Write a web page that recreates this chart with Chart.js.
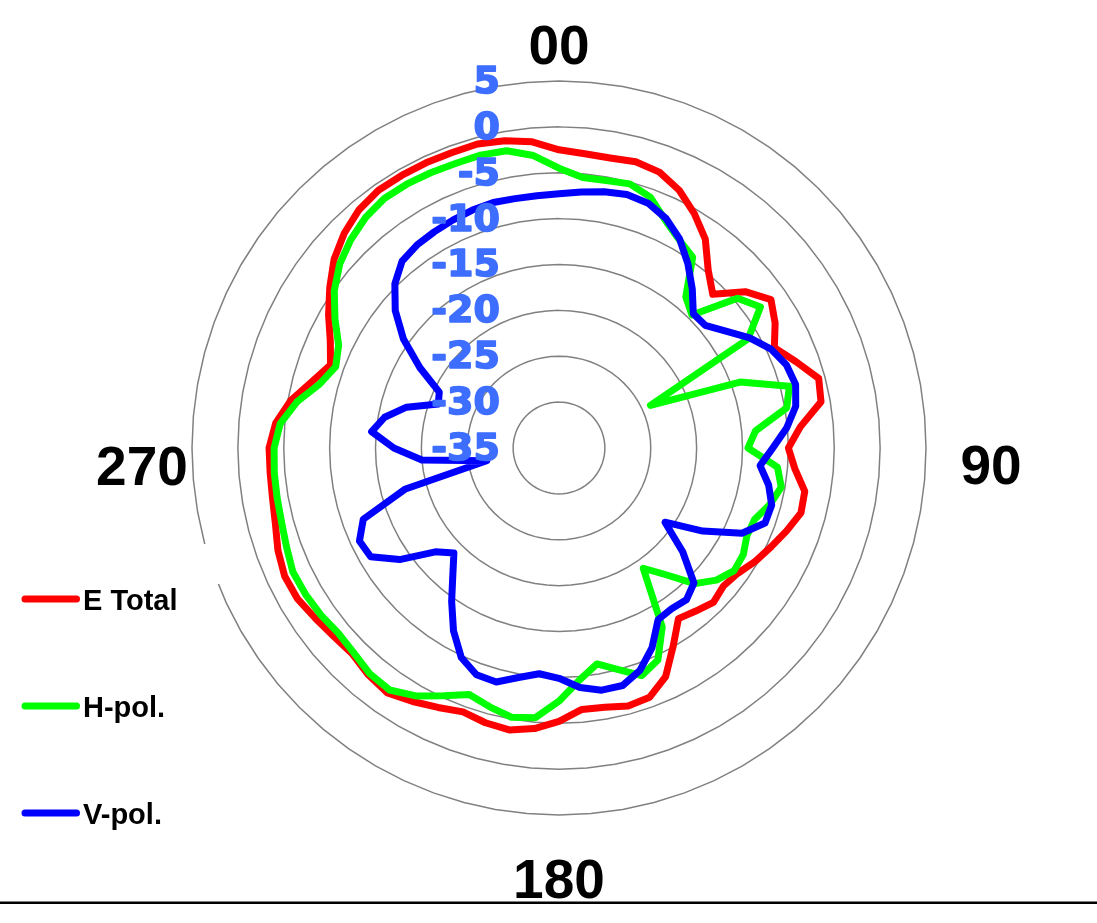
<!DOCTYPE html>
<html>
<head>
<meta charset="utf-8">
<title>Antenna pattern</title>
<script src="https://cdn.jsdelivr.net/npm/chart.js@4.4.1/dist/chart.umd.min.js"></script>
<style>
  html, body { margin: 0; padding: 0; background: #fff; }
  #wrap { position: relative; width: 1097px; height: 923px; }
</style>
</head>
<body>
<div id="wrap"><canvas id="pattern"></canvas></div>
<script>
// azimuth in degrees, clockwise from the top
const angles = [
  "0", "5", "10", "15", "20", "25", "30", "35", "40", "45", "50", "55",
  "60", "65", "70", "75", "80", "85", "90", "95", "100", "105", "110", "115",
  "120", "125", "130", "135", "140", "145", "150", "155", "160", "165", "170", "175",
  "180", "185", "190", "195", "200", "205", "210", "215", "220", "225", "230", "235",
  "240", "245", "250", "255", "260", "265", "270", "275", "280", "285", "290", "295",
  "300", "305", "310", "315", "320", "325", "330", "335", "340", "345", "350", "355"
];

// level in dB
const eTotal = [
  -2.5, -2.8, -2.9, -2.7, -3.0, -4.0, -5.5, -7.2, -9.7, -11.3, -8.5, -6.8,
  -7.8, -9.1, -7.5, -5.7, -6.0, -8.6, -10.0, -9.2, -7.8, -7.7, -8.6, -9.5,
  -10.3, -11.2, -11.6, -11.2, -11.8, -12.3, -10.1, -7.5, -6.1, -5.9, -6.3, -6.4,
  -5.2, -4.3, -3.8, -4.0, -4.4, -3.8, -3.1, -2.4, -2.7, -3.2, -3.0, -2.6,
  -2.1, -2.0, -2.4, -3.0, -3.3, -3.4, -3.4, -4.0, -5.3, -7.1, -8.5, -7.5,
  -6.0, -4.5, -3.0, -1.9, -1.1, -0.7, -0.7, -0.7, -0.75, -0.7, -1.0, -1.5
];

const hPol = [
  -4.5, -5.4, -5.4, -5.2, -5.9, -7.6, -8.8, -9.6, -13.5, -14.5, -9.6, -8.2,
  -11.2, -24.0, -14.0, -9.0, -9.8, -13.5, -14.4, -11.1, -10.4, -11.2, -12.3, -12.4,
  -11.8, -11.7, -12.6, -14.1, -17.0, -19.0, -12.5, -9.5, -8.6, -10.0, -11.1, -9.6,
  -7.4, -5.5, -5.2, -5.8, -6.4, -5.2, -3.8, -2.8, -2.9, -3.4, -3.6, -3.3,
  -3.1, -3.0, -3.4, -3.7, -3.8, -3.85, -3.95, -4.5, -6.0, -8.0, -9.1, -8.5,
  -6.8, -5.1, -3.8, -2.9, -2.2, -1.8, -1.8, -1.9, -2.0, -1.95, -2.1, -3.0
];

const vPol = [
  -7.3, -7.0, -6.65, -6.4, -6.6, -7.4, -8.7, -10.5, -12.4, -14.3, -14.2, -12.8,
  -11.0, -9.5, -8.6, -8.3, -8.8, -10.1, -11.7, -13.0, -11.8, -11.0, -11.1, -13.0,
  -16.9, -20.9, -17.4, -14.2, -13.4, -13.6, -13.4, -11.0, -9.2, -8.2, -8.2, -8.8,
  -9.9, -10.3, -9.6, -8.6, -8.7, -9.8, -12.0, -14.6, -17.0, -18.8, -17.4, -13.8,
  -11.3, -11.0, -12.3, -17.6, -27.0, -20.0, -17.0, -14.5, -15.7, -17.8, -21.0, -20.6,
  -17.5, -14.3, -11.7, -9.7, -8.4, -8.0, -7.8, -7.6, -7.4, -7.3, -7.4, -7.4
];

const compassAngles = ["0", "90", "180", "270"];
const compassLabels = ["00", "90", "180", "270"];

const seriesNames = ["E Total", "H-pol.", "V-pol."];
const seriesColors = ["#ff0000", "#00ff00", "#0000ff"];

// gap beyond the outer ring and downward shift for each compass label
const compassGap = [37, 65, 63, 50];
const compassDrop = [0, 16, 0, 17];

const decorations = {
  id: "decorations",
  beforeDatasetsDraw(chart) {
    // the original has a blank patch over the outer ring next to the legend
    const ctx = chart.ctx;
    ctx.save();
    ctx.fillStyle = "#fff";
    ctx.fillRect(186, 544, 36, 40);
    ctx.restore();
  },
  afterDatasetsDraw(chart) {
    const ctx = chart.ctx;
    const scale = chart.scales.r;
    ctx.save();

    // ring values, right aligned left of the centre (heavy weight)
    ctx.font = "bold 38px 'DejaVu Sans'";
    ctx.fillStyle = "#3d6eff";
    ctx.strokeStyle = "#3d6eff";
    ctx.lineWidth = 1.6;
    ctx.lineJoin = "round";
    ctx.textAlign = "right";
    ctx.textBaseline = "middle";
    scale.ticks.forEach((t) => {
      const d = scale.getDistanceFromCenterForValue(t.value);
      const y = scale.yCenter - d + 2;
      ctx.fillText(String(t.value), scale.xCenter - 59, y);
      ctx.strokeText(String(t.value), scale.xCenter - 59, y);
    });

    // compass labels
    ctx.font = "bold 55px 'Liberation Sans', Arial, sans-serif";
    ctx.fillStyle = "#000";
    ctx.textAlign = "center";
    ctx.textBaseline = "alphabetic";
    compassAngles.forEach((a, i) => {
      const idx = angles.indexOf(a);
      const p = scale.getPointPosition(idx, scale.drawingArea + compassGap[i]);
      ctx.fillText(compassLabels[i], p.x, p.y + 20 + compassDrop[i]);
    });

    // legend
    ctx.font = "bold 29px 'Liberation Sans', Arial, sans-serif";
    ctx.textAlign = "left";
    ctx.lineCap = "round";
    chart.data.datasets.forEach((ds, i) => {
      const y = 599 + i * 107;
      ctx.strokeStyle = ds.borderColor;
      ctx.lineWidth = 7;
      ctx.beginPath();
      ctx.moveTo(25, y);
      ctx.lineTo(76.5, y);
      ctx.stroke();
      ctx.fillStyle = "#000";
      ctx.fillText(ds.label, 83, y + 10.5);
    });

    // bottom rule
    ctx.fillStyle = "#000";
    ctx.fillRect(0, 901.5, chart.width, 2.5);
    ctx.restore();
  }
};

const series = [eTotal, hPol, vPol];

new Chart(document.getElementById("pattern"), {
  type: "radar",
  data: {
    labels: angles,
    datasets: series.map((values, i) => ({
      label: seriesNames[i],
      data: values,
      borderColor: seriesColors[i],
      backgroundColor: seriesColors[i],
      borderWidth: 7,
      borderJoinStyle: "round",
      borderCapStyle: "round",
      pointRadius: 0,
      pointHoverRadius: 0,
      fill: false,
      tension: 0,
      order: 3 - i
    }))
  },
  options: {
    responsive: true,
    maintainAspectRatio: false,
    animation: false,
    layout: {
      padding: { left: 192, right: 171, top: 81, bottom: 108 }
    },
    plugins: {
      legend: { display: false },
      tooltip: { enabled: false }
    },
    scales: {
      r: {
        min: -35,
        max: 5,
        ticks: { stepSize: 5, display: false },
        grid: { circular: false, color: "#808080", lineWidth: 1.5 },
        angleLines: { display: false },
        pointLabels: { display: false }
      }
    }
  },
  plugins: [decorations]
});
</script>
</body>
</html>
